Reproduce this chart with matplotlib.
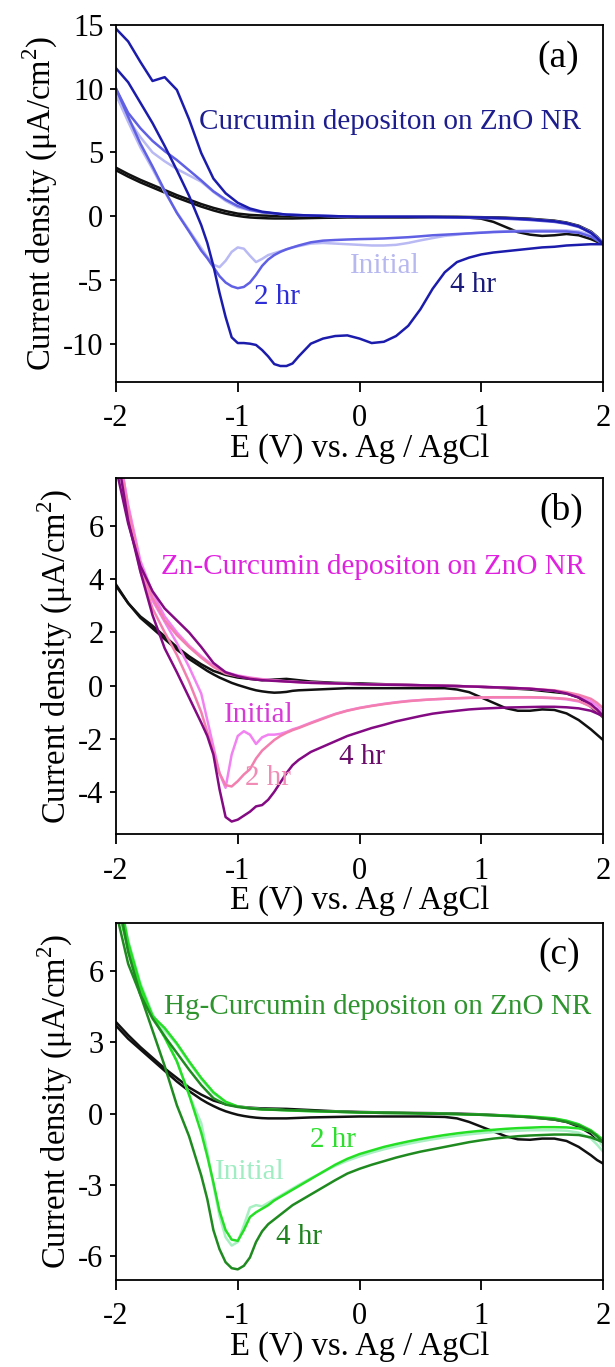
import matplotlib
matplotlib.use("Agg")
import matplotlib.pyplot as plt

plt.rcParams["font.family"] = ["Liberation Serif", "DejaVu Serif"]
plt.rcParams["axes.unicode_minus"] = False
plt.rcParams["mathtext.fontset"] = "custom"
plt.rcParams["mathtext.rm"] = "Liberation Serif"

# potential grids (V vs Ag/AgCl)
E_up = [-2.0, -1.9, -1.8, -1.7, -1.6, -1.5, -1.4, -1.3, -1.2, -1.1, -1.0, -0.9, -0.8,
        -0.6, -0.4, -0.2, 0.0, 0.2, 0.4, 0.6, 0.8, 1.0, 1.2, 1.4, 1.6, 1.7, 1.8, 1.9, 1.95, 2.0]
E_dn = [-2.0, -1.9, -1.8, -1.7, -1.6, -1.5, -1.4, -1.3, -1.25, -1.2, -1.15, -1.1, -1.05,
        -1.0, -0.95, -0.9, -0.85, -0.8, -0.75, -0.7, -0.65, -0.6, -0.55, -0.5, -0.4, -0.3,
        -0.2, -0.1, 0.0, 0.1, 0.2, 0.3, 0.4, 0.5, 0.6, 0.7, 0.8, 0.9, 1.0, 1.1, 1.2, 1.3,
        1.4, 1.5, 1.6, 1.7, 1.8, 1.9, 1.95, 2.0]

# ---- (a) Curcumin ----
a_blank_up = [3.8, 3.3, 2.85, 2.45, 2.05, 1.65, 1.3, 0.95, 0.65, 0.4, 0.2, 0.1, 0.05,
              0.0, -0.05, -0.05, -0.05, -0.05, -0.05, -0.05, -0.05, -0.08, -0.12, -0.2, -0.35,
              -0.5, -0.75, -1.2, -1.6, -2.1]
a_blank_dn = [3.6, 3.1, 2.65, 2.25, 1.85, 1.45, 1.1, 0.75, 0.6, 0.45, 0.32, 0.2, 0.1,
              0.02, -0.05, -0.1, -0.13, -0.15, -0.17, -0.18, -0.18, -0.18, -0.18, -0.17, -0.15, -0.13,
              -0.12, -0.1, -0.1, -0.1, -0.1, -0.1, -0.1, -0.1, -0.1, -0.1, -0.1, -0.12, -0.2, -0.45,
              -0.85, -1.25, -1.45, -1.55, -1.5, -1.4, -1.5, -1.8, -2.0, -2.2]
a_init_up = [9.6, 7.6, 6.2, 5.0, 4.3, 3.7, 3.2, 2.7, 1.9, 1.2, 0.7, 0.45, 0.3,
             0.12, 0.05, 0.0, -0.05, -0.05, -0.05, -0.08, -0.1, -0.12, -0.18, -0.25, -0.4,
             -0.55, -0.8, -1.25, -1.65, -2.1]
a_init_dn = [9.5, 7.4, 5.4, 3.7, 1.9, 0.3, -1.1, -2.5, -3.2, -3.8, -4.0, -3.5, -2.8,
             -2.45, -2.55, -3.1, -3.6, -3.35, -3.05, -2.9, -2.75, -2.6, -2.45, -2.35, -2.15, -2.1,
             -2.15, -2.2, -2.25, -2.3, -2.3, -2.25, -2.1, -1.9, -1.72, -1.55, -1.45, -1.35, -1.28, -1.22,
             -1.18, -1.15, -1.12, -1.1, -1.1, -1.12, -1.2, -1.45, -1.7, -2.0]
a_2h_up = [10.0, 8.1, 6.9, 5.9, 5.1, 4.4, 3.6, 2.8, 1.95, 1.3, 0.8, 0.5, 0.3,
           0.12, 0.05, 0.0, -0.05, -0.05, -0.05, -0.08, -0.1, -0.15, -0.2, -0.3, -0.45,
           -0.6, -0.85, -1.3, -1.7, -2.1]
a_2h_dn = [10.0, 7.8, 5.7, 3.9, 2.0, 0.25, -1.2, -2.7, -3.3, -4.0, -4.7, -5.2, -5.5,
           -5.65, -5.55, -5.2, -4.6, -3.9, -3.4, -3.05, -2.8, -2.6, -2.45, -2.3, -2.05, -1.92,
           -1.87, -1.83, -1.8, -1.78, -1.75, -1.7, -1.65, -1.58, -1.5, -1.45, -1.4, -1.35, -1.3, -1.25,
           -1.22, -1.2, -1.2, -1.2, -1.2, -1.2, -1.3, -1.6, -1.9, -2.2]
a_4h_up = [14.7, 13.7, 12.1, 10.6, 10.9, 9.9, 7.6, 4.95, 2.95, 1.8, 1.05, 0.6, 0.35,
           0.12, 0.05, 0.0, -0.05, -0.05, -0.05, -0.05, -0.08, -0.1, -0.15, -0.25, -0.4,
           -0.55, -0.8, -1.3, -1.7, -2.2]
a_4h_dn = [11.6, 10.5, 8.9, 7.3, 5.5, 3.6, 1.6, -0.7, -2.1, -3.9, -6.0, -7.9, -9.5,
           -9.95, -9.95, -10.0, -10.1, -10.5, -11.0, -11.6, -11.75, -11.75, -11.55, -11.0, -10.0, -9.6,
           -9.4, -9.35, -9.6, -9.95, -9.85, -9.4, -8.6, -7.3, -5.7, -4.4, -3.6, -3.25, -3.0, -2.85,
           -2.75, -2.65, -2.55, -2.45, -2.4, -2.3, -2.25, -2.2, -2.2, -2.2]

# ---- (b) Zn-Curcumin ----
b_blank_up = [3.8, 3.1, 2.6, 2.25, 1.85, 1.45, 1.1, 0.8, 0.55, 0.4, 0.3, 0.25, 0.2,
              0.25, 0.15, 0.1, 0.08, 0.05, 0.02, 0.0, -0.02, -0.05, -0.1, -0.15, -0.25,
              -0.3, -0.45, -0.8, -1.0, -1.2]
b_blank_dn = [3.75, 3.1, 2.55, 2.15, 1.75, 1.35, 1.0, 0.7, 0.55, 0.42, 0.3, 0.2, 0.1,
              0.02, -0.05, -0.12, -0.18, -0.22, -0.25, -0.27, -0.26, -0.24, -0.2, -0.18, -0.16, -0.14,
              -0.12, -0.1, -0.1, -0.1, -0.1, -0.1, -0.1, -0.1, -0.1, -0.1, -0.15, -0.25, -0.45, -0.65,
              -0.85, -0.95, -0.95, -0.9, -0.92, -1.05, -1.3, -1.65, -1.85, -2.05]
b_init_up = [9.3, 6.8, 4.7, 3.5, 2.6, 2.0, 1.5, 1.1, 0.75, 0.5, 0.38, 0.3, 0.24,
             0.16, 0.11, 0.08, 0.05, 0.03, 0.02, 0.0, -0.02, -0.05, -0.08, -0.12, -0.2,
             -0.28, -0.4, -0.6, -0.75, -1.0]
b_init_dn = [9.6, 6.7, 4.5, 3.2, 2.4, 1.6, 0.7, -0.3, -1.3, -2.3, -3.3, -3.85, -2.6,
             -1.9, -1.72, -1.85, -2.2, -1.95, -1.85, -1.85, -1.82, -1.75, -1.65, -1.58, -1.4, -1.23,
             -1.07, -0.94, -0.84, -0.76, -0.69, -0.63, -0.58, -0.55, -0.52, -0.5, -0.48, -0.47, -0.46, -0.45,
             -0.45, -0.45, -0.45, -0.46, -0.48, -0.52, -0.6, -0.75, -0.9, -1.1]
b_2h_up = [9.0, 6.6, 4.5, 3.3, 2.45, 1.9, 1.45, 1.05, 0.7, 0.45, 0.35, 0.28, 0.22,
           0.15, 0.1, 0.08, 0.05, 0.03, 0.02, 0.0, -0.02, -0.05, -0.08, -0.12, -0.18,
           -0.25, -0.35, -0.5, -0.65, -0.85]
b_2h_dn = [9.5, 6.5, 4.3, 2.9, 2.0, 1.15, 0.15, -1.0, -1.75, -2.5, -3.3, -3.75, -3.8,
           -3.6, -3.35, -3.15, -2.75, -2.45, -2.25, -2.05, -1.9, -1.78, -1.68, -1.6, -1.42, -1.25,
           -1.08, -0.95, -0.85, -0.77, -0.7, -0.64, -0.59, -0.55, -0.52, -0.5, -0.48, -0.46, -0.45, -0.44,
           -0.44, -0.44, -0.44, -0.45, -0.47, -0.5, -0.58, -0.8, -0.95, -1.2]
b_4h_up = [8.2, 6.1, 4.5, 3.55, 2.9, 2.45, 2.0, 1.45, 0.85, 0.5, 0.35, 0.25, 0.2,
           0.15, 0.1, 0.08, 0.05, 0.03, 0.02, 0.0, -0.02, -0.05, -0.08, -0.12, -0.2,
           -0.3, -0.45, -0.7, -0.9, -1.15]
b_4h_dn = [9.0, 6.2, 4.3, 2.65, 1.4, 0.5, -0.45, -1.4, -1.9, -2.6, -3.9, -4.95, -5.12,
           -5.05, -4.9, -4.75, -4.55, -4.5, -4.3, -4.0, -3.65, -3.3, -3.0, -2.8, -2.5, -2.3,
           -2.1, -1.9, -1.75, -1.6, -1.48, -1.35, -1.25, -1.15, -1.06, -1.0, -0.95, -0.9, -0.87, -0.85,
           -0.83, -0.82, -0.81, -0.8, -0.8, -0.82, -0.86, -0.95, -1.05, -1.15]

# ---- (c) Hg-Curcumin ----
c_blank_up = [3.85, 3.3, 2.8, 2.35, 1.9, 1.5, 1.1, 0.8, 0.55, 0.4, 0.3, 0.25, 0.22,
              0.2, 0.15, 0.1, 0.07, 0.05, 0.03, 0.02, 0.0, -0.03, -0.08, -0.15, -0.25,
              -0.35, -0.55, -0.85, -1.05, -1.25]
c_blank_dn = [3.7, 3.15, 2.7, 2.25, 1.8, 1.35, 0.95, 0.6, 0.45, 0.32, 0.2, 0.1, 0.02,
              -0.05, -0.1, -0.14, -0.17, -0.19, -0.2, -0.2, -0.2, -0.2, -0.19, -0.18, -0.16, -0.15,
              -0.14, -0.13, -0.12, -0.12, -0.12, -0.12, -0.12, -0.12, -0.13, -0.14, -0.2, -0.35, -0.55, -0.75,
              -0.95, -1.08, -1.1, -1.05, -1.05, -1.15, -1.4, -1.75, -1.95, -2.1]
c_init_up = [9.2, 7.0, 5.3, 4.1, 3.5, 2.9, 2.15, 1.45, 0.85, 0.48, 0.3, 0.23, 0.19,
             0.14, 0.1, 0.08, 0.05, 0.03, 0.02, 0.0, -0.02, -0.05, -0.08, -0.14, -0.22,
             -0.3, -0.45, -0.75, -1.0, -1.4]
c_init_dn = [9.8, 7.3, 5.5, 4.2, 3.3, 2.2, 0.8, -0.4, -1.6, -3.0, -4.3, -5.2, -5.55,
             -5.4, -4.7, -3.95, -3.85, -3.9, -3.75, -3.6, -3.45, -3.3, -3.15, -3.0, -2.72, -2.45,
             -2.2, -1.98, -1.8, -1.64, -1.5, -1.38, -1.27, -1.17, -1.08, -1.0, -0.93, -0.87, -0.82, -0.78,
             -0.75, -0.72, -0.7, -0.7, -0.7, -0.72, -0.8, -1.05, -1.3, -1.6]
c_2h_up = [9.0, 6.9, 5.2, 4.1, 3.6, 2.95, 2.2, 1.5, 0.9, 0.5, 0.3, 0.22, 0.18,
           0.14, 0.1, 0.08, 0.05, 0.03, 0.02, 0.0, -0.02, -0.05, -0.08, -0.12, -0.2,
           -0.3, -0.45, -0.7, -0.9, -1.2]
c_2h_dn = [9.8, 7.2, 5.4, 4.1, 3.2, 2.2, 0.8, -0.8, -1.8, -2.9, -4.1, -4.9, -5.3,
           -5.35, -4.9, -4.35, -4.15, -4.0, -3.85, -3.65, -3.5, -3.35, -3.2, -3.05, -2.75, -2.45,
           -2.15, -1.9, -1.7, -1.55, -1.4, -1.28, -1.17, -1.07, -0.98, -0.9, -0.83, -0.77, -0.72, -0.68,
           -0.64, -0.61, -0.59, -0.57, -0.57, -0.58, -0.62, -0.75, -0.9, -1.1]
c_4h_up = [8.5, 6.3, 5.0, 4.0, 3.25, 2.55, 1.85, 1.2, 0.65, 0.38, 0.28, 0.22, 0.18,
           0.15, 0.12, 0.08, 0.05, 0.03, 0.02, 0.0, -0.02, -0.05, -0.1, -0.15, -0.25,
           -0.35, -0.5, -0.75, -0.95, -1.2]
c_4h_dn = [9.5, 6.8, 5.0, 3.5, 2.0, 0.35, -0.95, -2.6, -3.6, -4.9, -5.7, -6.25, -6.5,
           -6.55, -6.4, -6.05, -5.4, -4.95, -4.65, -4.45, -4.25, -4.05, -3.85, -3.7, -3.4, -3.1,
           -2.8, -2.52, -2.32, -2.15, -2.0, -1.85, -1.72, -1.6, -1.5, -1.4, -1.3, -1.2, -1.12, -1.05,
           -1.0, -0.95, -0.92, -0.9, -0.88, -0.88, -0.9, -1.0, -1.1, -1.2]

panels = [
    dict(tag="(a)", pos=[0.1886, 0.7206, 0.792, 0.2612], ylim=(-13, 15),
         yticks=[-10, -5, 0, 5, 10, 15],
         blank=(a_blank_up, a_blank_dn),
         curves=[(a_init_up, a_init_dn, "#b9b9f4"), (a_2h_up, a_2h_dn, "#6060e4"),
                 (a_4h_up, a_4h_dn, "#1c1cac")],
         title=("Curcumin depositon on ZnO NR", 0.25, 7.4, "#1d1d8e"),
         labels=[("Initial", 0.21, -3.9, "#b8b8f0"), ("2 hr", -0.68, -6.3, "#2e2ed8"),
                 ("4 hr", 0.93, -5.4, "#1a1a7a")],
         tagpos=(1.63, 12.4)),
    dict(tag="(b)", pos=[0.1886, 0.3897, 0.792, 0.2604], ylim=(-5.6, 7.8),
         yticks=[-4, -2, 0, 2, 4, 6],
         blank=(b_blank_up, b_blank_dn),
         curves=[(b_init_up, b_init_dn, "#f282f2"), (b_2h_up, b_2h_dn, "#f27fae"),
                 (b_4h_up, b_4h_dn, "#830a83")],
         title=("Zn-Curcumin depositon on ZnO NR", 0.11, 4.45, "#e022e0"),
         labels=[("Initial", -0.83, -1.12, "#d83ad8"), ("2 hr", -0.75, -3.5, "#f08cb6"),
                 ("4 hr", 0.02, -2.68, "#6a0c6a")],
         tagpos=(1.66, 6.6)),
    dict(tag="(c)", pos=[0.1886, 0.0636, 0.792, 0.2609], ylim=(-7, 8),
         yticks=[-6, -3, 0, 3, 6],
         blank=(c_blank_up, c_blank_dn),
         curves=[(c_init_up, c_init_dn, "#a8efc2"), (c_2h_up, c_2h_dn, "#25df25"),
                 (c_4h_up, c_4h_dn, "#1f8a1f")],
         title=("Hg-Curcumin depositon on ZnO NR", 0.15, 4.5, "#2e942e"),
         labels=[("Initial", -0.9, -2.44, "#a0edc4"), ("2 hr", -0.22, -1.1, "#2ede2e"),
                 ("4 hr", -0.5, -5.17, "#1f821f")],
         tagpos=(1.64, 6.67)),
]

fig = plt.figure(figsize=(6.15, 13.67), dpi=100)

for p in panels:
    ax = fig.add_axes(p["pos"])
    up, dn = p["blank"]
    ax.plot(E_up, up, color="#111111", lw=1.8)
    ax.plot(E_dn, dn, color="#111111", lw=1.8)
    for cu, cd, col in p["curves"]:
        ax.plot(E_up, cu, color=col, lw=1.8)
        ax.plot(E_dn, cd, color=col, lw=1.8)

    ax.set_xlim(-2, 2)
    ax.set_ylim(*p["ylim"])
    ax.set_xticks([-2, -1, 0, 1, 2])
    ax.set_yticks(p["yticks"])
    ax.tick_params(axis="x", direction="out", length=7, width=1.3, labelsize=22, pad=9)
    ax.tick_params(axis="y", direction="out", length=4, width=1.3, labelsize=22, pad=5)
    for s in ax.spines.values():
        s.set_linewidth(1.3)
    ax.set_xlabel("E (V) vs. Ag / AgCl", fontsize=23.5, labelpad=0)
    ax.set_ylabel("Current density (μA/cm$^\\mathregular{2}$)", fontsize=23.5, labelpad=2)

    t, tx, ty, tc = p["title"]
    ax.text(tx, ty, t, color=tc, fontsize=21, ha="center", va="center")
    for s, lx, ly, lc in p["labels"]:
        ax.text(lx, ly, s, color=lc, fontsize=21, ha="center", va="center")
    ax.text(p["tagpos"][0], p["tagpos"][1], p["tag"], fontsize=27, ha="center", va="center")

fig.savefig("out.png", dpi=100)
